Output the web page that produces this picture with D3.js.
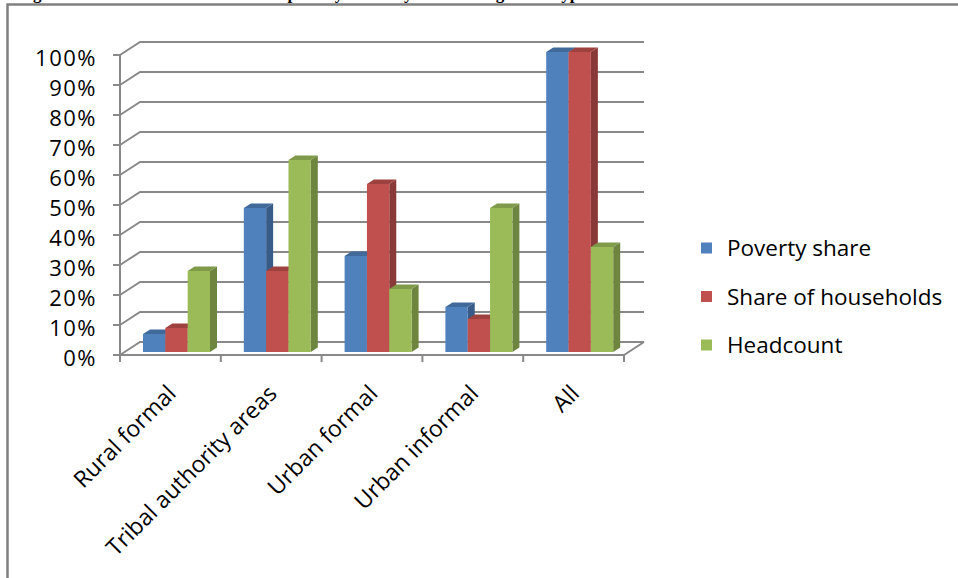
<!DOCTYPE html>
<html>
<head>
<meta charset="utf-8">
<script src="https://cdn.jsdelivr.net/npm/d3@7/dist/d3.min.js"></script>
<style>
  html, body { margin: 0; padding: 0; background: #fff; overflow: hidden; }
  svg { display: block; }
</style>
</head>
<body>
<svg id="chart" width="958" height="578"></svg>
<script>
// Categories, series and values (percent)
const categories = ["Rural formal", "Tribal authority areas", "Urban formal", "Urban informal", "All"];
const seriesNames = ["Poverty share", "Share of households", "Headcount"];
const povertyShare = [6, 48, 32, 15, 100];
const shareOfHouseholds = [8, 27, 56, 11, 100];
const headcount = [27, 64, 21, 48, 35];
const yTicks = [0, 10, 20, 30, 40, 50, 60, 70, 80, 90, 100];
const titleText = "Figure 3: Income poverty by living type";

const seriesValues = [povertyShare, shareOfHouseholds, headcount];
const colors = ["#4F81BD", "#C0504D", "#9BBB59"];

const svg = d3.select("#chart");
const font = "'Open Sans', 'DejaVu Sans', sans-serif";

// Frame, with the caption line running above its top edge
svg.append("text")
  .attr("x", 18).attr("y", -1.5)
  .attr("font-family", "'Liberation Serif', 'Times New Roman', serif")
  .attr("font-weight", "bold")
  .attr("font-size", 17)
  .attr("word-spacing", "47px")
  .attr("fill", "#000")
  .text(titleText);

svg.append("rect")
  .attr("x", 7.5).attr("y", 4.5)
  .attr("width", 1000).attr("height", 700)
  .attr("fill", "none")
  .attr("stroke", "#808080")
  .attr("stroke-width", 2.5);

// 3D frame geometry
const front = { left: 120, right: 624, top: 55, base: 355 };
const depth = { dx: 20, dy: -13 };       // floor / wall depth offset
const barPlane = { dx: 0, dy: -3 };       // bar front faces sit slightly behind the floor edge
const barDepth = { dx: 7, dy: -4.5 };     // visible thickness of each bar

const y = d3.scaleLinear().domain([0, 100]).range([front.base, front.top]);
const x0 = d3.scaleBand().domain(categories).range([front.left, front.right]).paddingInner(0).paddingOuter(0);
const x1 = d3.scaleBand().domain(seriesNames).range([23, 90]).padding(0);

const grid = svg.append("g").attr("fill", "none").attr("stroke", "#898989").attr("stroke-width", 2);

// Back wall gridlines with diagonal returns to the value axis
yTicks.forEach(t => {
  const yf = y(t), yb = y(t) + depth.dy;
  grid.append("path")
    .attr("d", `M${front.left},${yf}L${front.left + depth.dx},${yb}L${front.right + depth.dx},${yb}`);
});

// Floor front edge and right return
grid.append("path")
  .attr("d", `M${front.left},${y(0)}L${front.right},${y(0)}L${front.right + depth.dx},${y(0) + depth.dy}`);

// Value axis line and ticks
grid.append("path").attr("d", `M${front.left},${y(100)}L${front.left},${y(0)}`);
yTicks.forEach(t => {
  grid.append("path").attr("d", `M${front.left - 7},${y(t)}L${front.left},${y(t)}`);
});

// Category ticks
const catEdges = categories.map(c => x0(c)).concat([front.right]);
catEdges.forEach(xv => {
  grid.append("path").attr("d", `M${xv},${y(0)}L${xv},${y(0) + 7}`);
});

// Value axis labels
svg.append("g").selectAll("text")
  .data(yTicks)
  .join("text")
  .attr("x", 97)
  .attr("y", d => y(d) + 3)
  .attr("dy", "0.36em")
  .attr("text-anchor", "end")
  .attr("font-family", font)
  .attr("font-size", 22)
  .attr("letter-spacing", "1.5px")
  .attr("fill", "#000")
  .text(d => d + "%");

// Bars: front face, right side and top, drawn left to right
const bars = [];
categories.forEach((c, ci) => {
  seriesNames.forEach((s, si) => {
    bars.push({ c, s, si, v: seriesValues[si][ci] });
  });
});

const barG = svg.append("g");
bars.forEach(b => {
  const xl = x0(b.c) + x1(b.s) + barPlane.dx;
  const xr = xl + x1.bandwidth();
  const yt = y(b.v) + barPlane.dy;
  const yb = y(0) + barPlane.dy;
  const base = d3.color(colors[b.si]);
  const side = base.darker(0.95).formatHex();
  const top = base.darker(0.55).formatHex();
  const g = barG.append("g");
  g.append("path")
    .attr("d", `M${xr},${yt}L${xr + barDepth.dx},${yt + barDepth.dy}L${xr + barDepth.dx},${yb + barDepth.dy}L${xr},${yb}Z`)
    .attr("fill", side);
  g.append("path")
    .attr("d", `M${xl},${yt}L${xl + barDepth.dx},${yt + barDepth.dy}L${xr + barDepth.dx},${yt + barDepth.dy}L${xr},${yt}Z`)
    .attr("fill", top);
  g.append("rect")
    .attr("x", xl).attr("y", yt)
    .attr("width", x1.bandwidth()).attr("height", yb - yt)
    .attr("fill", base.formatHex());
});

// Category labels rotated 45 degrees
svg.append("g").selectAll("text")
  .data(categories)
  .join("text")
  .attr("transform", d => `translate(${x0(d) + x0.bandwidth() / 2 + 7},${395}) rotate(-45)`)
  .attr("text-anchor", "end")
  .attr("font-family", font)
  .attr("font-size", 23)
  .attr("fill", "#000")
  .text(d => d);

// Legend
const legend = svg.append("g").selectAll("g")
  .data(seriesNames)
  .join("g")
  .attr("transform", (d, i) => `translate(701,${248 + i * 48.5})`);
legend.append("rect")
  .attr("x", 0).attr("y", -5.5)
  .attr("width", 11).attr("height", 11)
  .attr("fill", (d, i) => colors[i]);
legend.append("text")
  .attr("x", 26).attr("y", 0)
  .attr("dy", "0.36em")
  .attr("font-family", font)
  .attr("font-size", 22.5)
  .attr("fill", "#000")
  .text(d => d);
</script>
</body>
</html>
